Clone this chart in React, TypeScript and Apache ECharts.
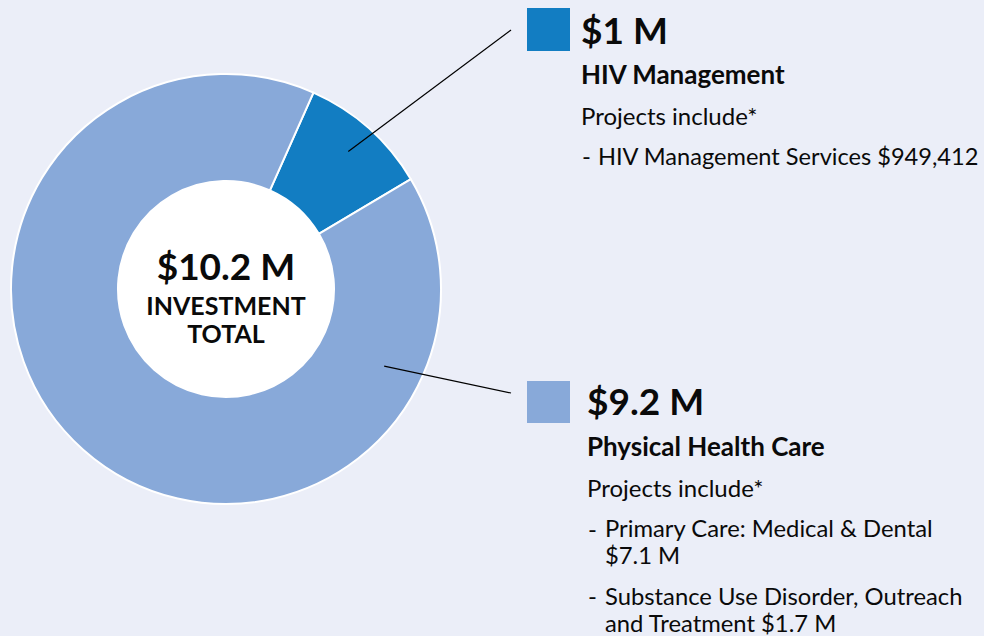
import React, { useEffect, useRef } from "react";
import * as echarts from "echarts";

const categories = ["HIV Management", "Physical Health Care"];
const values = [1.0, 9.2];
const valueLabels = ["$1 M", "$9.2 M"];
const colors = ["#127DC2", "#88A9D9"];
const totalLabel = "$10.2 M";
const centerLines = ["INVESTMENT", "TOTAL"];
const projectsIntro = "Projects include*";
const hivProjects = [["HIV Management Services $949,412"]];
const physicalProjects = [
  ["Primary Care: Medical & Dental", "$7.1 M"],
  ["Substance Use Disorder, Outreach", "and Treatment $1.7 M"],
];

const CX = 226;
const CY = 289;
const R_IN = 108;
const R_OUT = 215;
const START_FROM_TOP = 24; // degrees clockwise from 12 o'clock

const FONT = "Lato, 'Open Sans', sans-serif";
const INK = "#0a0a0a";

function polar(angFromTop: number, r: number): [number, number] {
  const a = (angFromTop * Math.PI) / 180;
  return [CX + r * Math.sin(a), CY - r * Math.cos(a)];
}

function txt(text: string, x: number, y: number, size: number, bold: boolean, align = "left") {
  return {
    type: "text",
    x,
    y,
    z: 10,
    style: {
      text,
      fill: INK,
      font: `${bold ? "bold " : ""}${size}px ${FONT}`,
      textAlign: align,
      textVerticalAlign: "middle",
    },
  };
}

export default function App() {
  const ref = useRef<HTMLDivElement>(null);
  useEffect(() => {
    if (!ref.current) return;
    const chart = echarts.init(ref.current, undefined, { renderer: "svg" });
    const total = values.reduce((a, b) => a + b, 0);
    const hivMid = START_FROM_TOP + (values[0] / total) * 180;
    const hivStart = polar(hivMid, 184);
    const physStart = polar(116, 176);

    const graphic: any[] = [];
    graphic.push({ type: "circle", shape: { cx: CX, cy: CY, r: R_IN }, style: { fill: "#ffffff" }, z: 5 });
    graphic.push(txt(totalLabel, CX, 265, 37, true, "center"));
    graphic.push(txt(centerLines[0], CX, 305, 25, true, "center"));
    graphic.push(txt(centerLines[1], CX, 333, 25, true, "center"));

    // leader lines
    graphic.push({ type: "line", z: 8, shape: { x1: hivStart[0], y1: hivStart[1], x2: 511, y2: 30 }, style: { stroke: "#000", lineWidth: 1.2 } });
    graphic.push({ type: "line", z: 8, shape: { x1: physStart[0], y1: physStart[1], x2: 511, y2: 393 }, style: { stroke: "#000", lineWidth: 1.2 } });

    // HIV block
    graphic.push({ type: "rect", z: 8, shape: { x: 527, y: 8, width: 43, height: 43 }, style: { fill: colors[0] } });
    graphic.push(txt(valueLabels[0], 581, 29, 37, true));
    graphic.push(txt(categories[0], 581, 73.5, 26, true));
    graphic.push(txt(projectsIntro, 581, 115, 24, false));
    graphic.push(txt("-", 582, 155.5, 24, false));
    graphic.push(txt(hivProjects[0][0], 598, 155.5, 23.6, false));

    // Physical block
    graphic.push({ type: "rect", z: 8, shape: { x: 527, y: 381, width: 43, height: 42 }, style: { fill: colors[1] } });
    graphic.push(txt(valueLabels[1], 587, 400.5, 37, true));
    graphic.push(txt(categories[1], 587, 446, 26, true));
    graphic.push(txt(projectsIntro, 587, 487.5, 24, false));
    const rows = [[528, 555], [595.5, 623]];
    physicalProjects.forEach((lines, i) => {
      graphic.push(txt("-", 588, rows[i][0], 24, false));
      lines.forEach((l, j) => graphic.push(txt(l, 605, rows[i][j], 23.8, false)));
    });

    chart.setOption({
      animation: false,
      backgroundColor: "#EBEEF8",
      series: [
        {
          type: "pie",
          center: [CX, CY],
          radius: [R_IN, R_OUT],
          startAngle: 90 - START_FROM_TOP,
          clockwise: true,
          label: { show: false },
          labelLine: { show: false },
          silent: true,
          itemStyle: { borderColor: "#ffffff", borderWidth: 2 },
          data: categories.map((c, i) => ({ name: c, value: values[i], itemStyle: { color: colors[i] } })),
        },
      ],
      graphic,
    });
    return () => chart.dispose();
  }, []);
  return <div ref={ref} style={{ position: "absolute", left: 0, top: 0, width: 984, height: 636 }} />;
}
